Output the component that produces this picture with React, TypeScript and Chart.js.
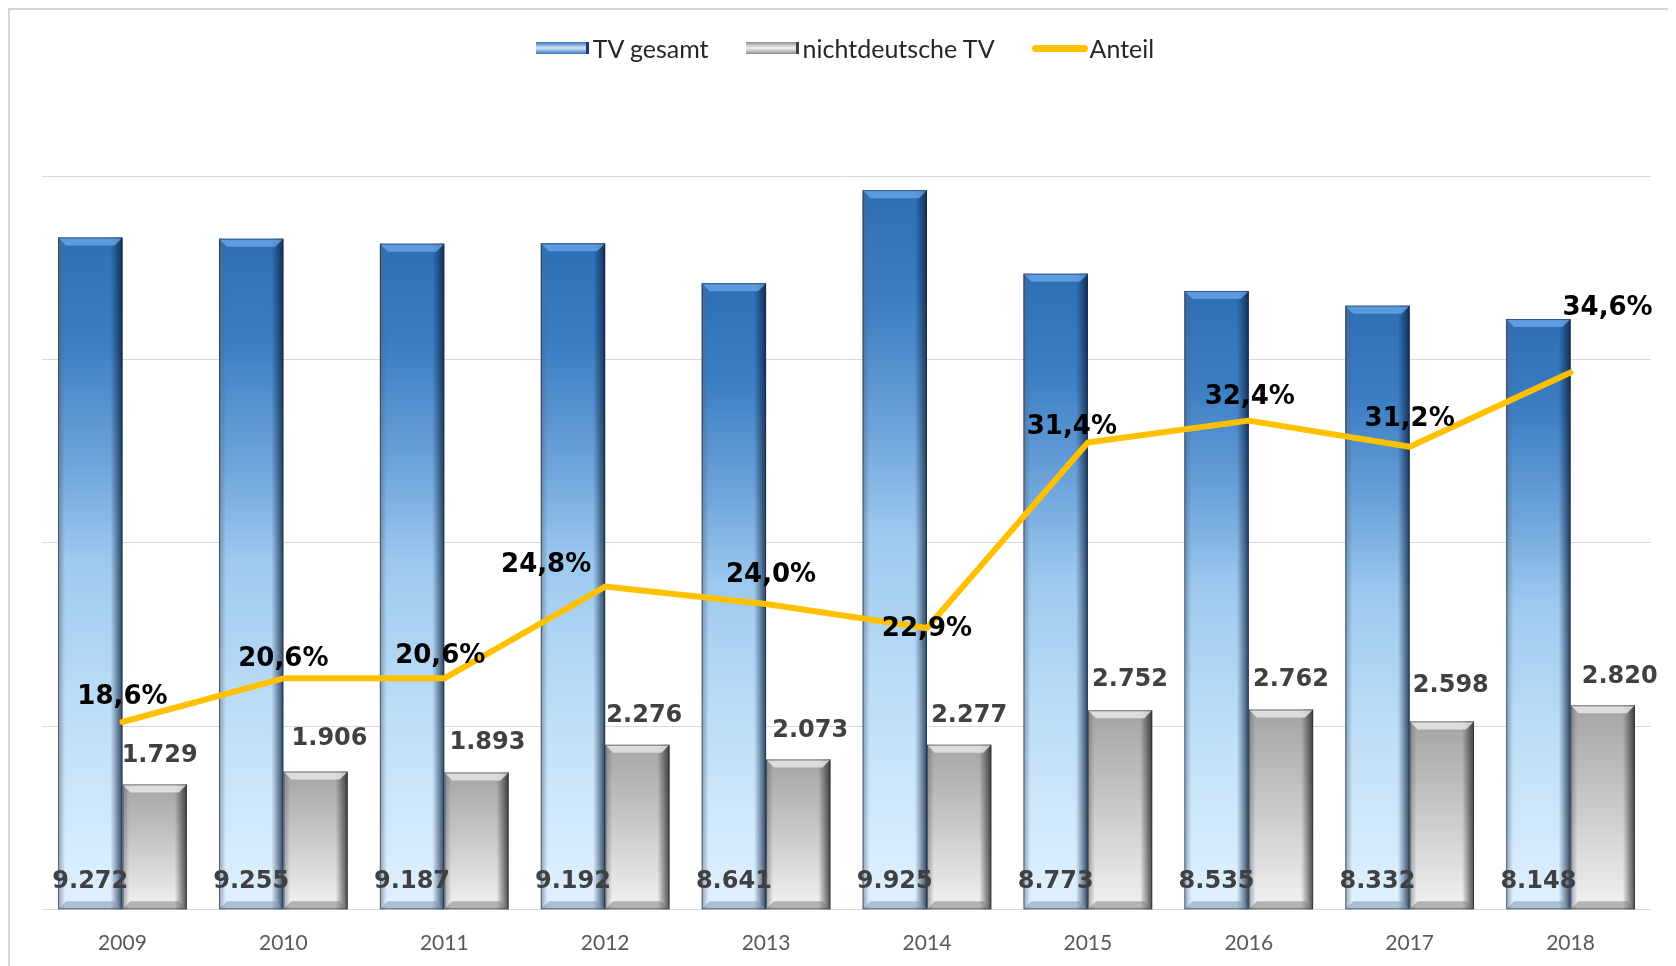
import React, { useEffect, useRef } from "react";
import { Chart, registerables } from "chart.js";
Chart.register(...registerables);

const years = ["2009", "2010", "2011", "2012", "2013", "2014", "2015", "2016", "2017", "2018"];
const tvGesamt = [9272, 9255, 9187, 9192, 8641, 9925, 8773, 8535, 8332, 8148];
const nichtdeutscheTV = [1729, 1906, 1893, 2276, 2073, 2277, 2752, 2762, 2598, 2820];
const anteil = [18.6, 20.6, 20.6, 24.8, 24.0, 22.9, 31.4, 32.4, 31.2, 34.6];
const seriesNames = ["TV gesamt", "nichtdeutsche TV", "Anteil"];

// label placement tweaks (style, not data)
const anteilLabelOffsets: [number, number][] = [
  [0, -25], [0, -19], [-4, -22], [-59, -21], [5, -29],
  [0, 1], [-16, -15], [1, -23], [0, -28], [37, -64],
];
const grayLabelOffsets: [number, number][] = [
  [5, -29], [14, -33], [11, -30], [7, -29], [12, -29],
  [10, -29], [10, -30], [10, -30], [9, -36], [17, -29],
];

const fmtThousands = (v: number) => {
  const th = Math.floor(v / 1000);
  const rest = String(v % 1000).padStart(3, "0");
  return th > 0 ? `${th}.${rest}` : String(v);
};
const fmtPct = (v: number) => v.toFixed(1).replace(".", ",") + "%";

const LABEL_FONT = "bold 24px 'DejaVu Sans', sans-serif";
const PCT_FONT = "bold 26px 'DejaVu Sans', sans-serif";

function barGradient(kind: number) {
  return (ctx: any) => {
    const chart = ctx.chart;
    const { chartArea, scales } = chart;
    if (!chartArea || ctx.type !== "data") return kind === 0 ? "#5b9bd5" : "#bfbfbf";
    const v = ctx.raw as number;
    const top = scales.y.getPixelForValue(v);
    const bottom = scales.y.getPixelForValue(0);
    const g = chart.ctx.createLinearGradient(0, top, 0, bottom);
    if (kind === 0) {
      g.addColorStop(0, "#2d70b6");
      g.addColorStop(0.15, "#3a7dc3");
      g.addColorStop(0.33, "#6ca3da");
      g.addColorStop(0.48, "#9dc9ef");
      g.addColorStop(0.68, "#badcf6");
      g.addColorStop(1, "#e0f1ff");
    } else {
      g.addColorStop(0, "#a4a4a4");
      g.addColorStop(0.45, "#c6c6c6");
      g.addColorStop(1, "#f2f2f2");
    }
    return g;
  };
}

const bevelPlugin = {
  id: "bevel",
  afterDatasetDraw(chart: any, args: any) {
    const meta = args.meta;
    if (meta.type !== "bar") return;
    const c = chart.ctx as CanvasRenderingContext2D;
    const isBlue = meta.index === 0;
    const dark = isBlue ? "rgba(12,32,62," : "rgba(35,35,35,";
    meta.data.forEach((el: any) => {
      const { x, y, base, width } = el.getProps(["x", "y", "base", "width"], true);
      const l = x - width / 2;
      const r = x + width / 2;
      const t = y;
      const b = base;
      const bv = 8;
      c.save();
      // right edge shading
      let g = c.createLinearGradient(r - 12, 0, r, 0);
      g.addColorStop(0, dark + "0)");
      g.addColorStop(1, dark + "0.8)");
      c.fillStyle = g;
      c.fillRect(r - 12, t, 12, b - t);
      // left edge shading
      g = c.createLinearGradient(l, 0, l + 7, 0);
      g.addColorStop(0, "rgba(90,100,115,0.55)");
      g.addColorStop(1, "rgba(90,100,115,0)");
      c.fillStyle = g;
      c.fillRect(l, t, 7, b - t);
      // top bevel
      c.beginPath();
      c.moveTo(l, t);
      c.lineTo(r, t);
      c.lineTo(r - bv, t + bv);
      c.lineTo(l + bv, t + bv);
      c.closePath();
      c.fillStyle = isBlue ? "rgba(110,170,235,0.75)" : "rgba(235,235,235,0.8)";
      c.fill();
      // bottom bevel
      c.beginPath();
      c.moveTo(l, b);
      c.lineTo(r, b);
      c.lineTo(r - bv, b - bv);
      c.lineTo(l + bv, b - bv);
      c.closePath();
      c.fillStyle = isBlue ? "rgba(130,150,175,0.55)" : "rgba(120,120,120,0.5)";
      c.fill();
      // outline
      c.strokeStyle = dark + "0.55)";
      c.lineWidth = 1;
      c.strokeRect(l + 0.5, t + 0.5, width - 1, b - t - 1);
      c.restore();
    });
  },
};

const labelsPlugin = {
  id: "valueLabels",
  afterDatasetsDraw(chart: any) {
    const c = chart.ctx as CanvasRenderingContext2D;
    c.save();
    c.font = LABEL_FONT;
    c.textAlign = "center";
    c.textBaseline = "middle";
    const m0 = chart.getDatasetMeta(0);
    const m1 = chart.getDatasetMeta(1);
    const m2 = chart.getDatasetMeta(2);
    c.fillStyle = "#404040";
    m0.data.forEach((el: any, i: number) => {
      const { x, base } = el.getProps(["x", "base"], true);
      c.fillText(fmtThousands(tvGesamt[i]), x, base - 28);
    });
    m1.data.forEach((el: any, i: number) => {
      const { x, y } = el.getProps(["x", "y"], true);
      const [dx, dy] = grayLabelOffsets[i];
      c.fillText(fmtThousands(nichtdeutscheTV[i]), x + dx, y + dy);
    });
    c.font = PCT_FONT;
    c.fillStyle = "#000000";
    m2.data.forEach((el: any, i: number) => {
      const { x, y } = el.getProps(["x", "y"], true);
      const [dx, dy] = anteilLabelOffsets[i];
      c.fillText(fmtPct(anteil[i]), x + dx, y + dy);
    });
    c.restore();
  },
};

function Legend() {
  const item = (swatch: React.CSSProperties, text: string) => (
    <div style={{ display: "flex", alignItems: "center", marginRight: 37 }}>
      <div style={{ width: 53, ...swatch }} />
      <span style={{ marginLeft: 4 }}>{text}</span>
    </div>
  );
  return (
    <div
      style={{
        position: "absolute",
        top: 22,
        left: 0,
        right: 0,
        display: "flex",
        justifyContent: "center",
        paddingLeft: 9,
        alignItems: "center",
        font: "25px Lato, sans-serif",
        color: "#262626",
        height: 32,
      }}
    >
      {item(
        {
          height: 12,
          background: "linear-gradient(to bottom, #3674bd 0%, #d4e9fb 50%, #3674bd 100%)",
          borderRight: "3px solid #1e3c66",
          boxSizing: "border-box",
        },
        seriesNames[0]
      )}
      {item(
        {
          height: 12,
          background: "linear-gradient(to bottom, #8f8f8f 0%, #f2f2f2 50%, #8f8f8f 100%)",
          borderRight: "3px solid #404040",
          boxSizing: "border-box",
        },
        seriesNames[1]
      )}
      <div style={{ display: "flex", alignItems: "center" }}>
        <div style={{ width: 56, height: 7, borderRadius: 4, background: "#FFC000" }} />
        <span style={{ marginLeft: 2 }}>{seriesNames[2]}</span>
      </div>
    </div>
  );
}

export default function App() {
  const ref = useRef<HTMLCanvasElement>(null);
  useEffect(() => {
    document.documentElement.style.overflow = "hidden";
    document.body.style.overflow = "hidden";
    if (!ref.current) return;
    const chart = new Chart(ref.current, {
      type: "bar",
      data: {
        labels: years,
        datasets: [
          {
            type: "bar",
            label: seriesNames[0],
            data: tvGesamt,
            backgroundColor: barGradient(0),
            yAxisID: "y",
            order: 1,
            categoryPercentage: 0.8,
            barPercentage: 1.0,
          },
          {
            type: "bar",
            label: seriesNames[1],
            data: nichtdeutscheTV,
            backgroundColor: barGradient(1),
            yAxisID: "y",
            order: 1,
            categoryPercentage: 0.8,
            barPercentage: 1.0,
          },
          {
            type: "line",
            label: seriesNames[2],
            data: anteil,
            borderColor: "#FFC000",
            backgroundColor: "#FFC000",
            borderWidth: 6,
            pointRadius: 0,
            tension: 0,
            borderCapStyle: "round",
            borderJoinStyle: "round",
            yAxisID: "y1",
            order: 0,
          },
        ] as any,
      },
      options: {
        responsive: false,
        animation: false,
        layout: { padding: { top: 166, left: 32, right: 20, bottom: 0 } },
        plugins: {
          legend: { display: false },
          tooltip: { enabled: false },
        },
        scales: {
          x: {
            grid: { display: false },
            border: { display: false },
            ticks: {
              color: "#595959",
              font: { family: "Lato", size: 21 },
              padding: 12.5,
            },
          },
          y: {
            min: 0,
            max: 10120,
            ticks: { display: false, stepSize: 2530 },
            grid: { color: "#d9d9d9", lineWidth: 1, drawTicks: false },
            border: { display: false },
          },
          y1: {
            display: false,
            min: 10,
            max: 43.6,
          },
        },
      } as any,
      plugins: [bevelPlugin, labelsPlugin],
    });
    return () => chart.destroy();
  }, []);
  return (
    <div
      style={{
        position: "relative",
        width: 1665,
        height: 968,
        boxSizing: "border-box",
        border: "2px solid #d6d6d6",
        borderBottom: "none",
        background: "#fff",
        overflow: "hidden",
      }}
    >
      <Legend />
      <canvas ref={ref} width={1661} height={958} style={{ display: "block" }} />
    </div>
  );
}
